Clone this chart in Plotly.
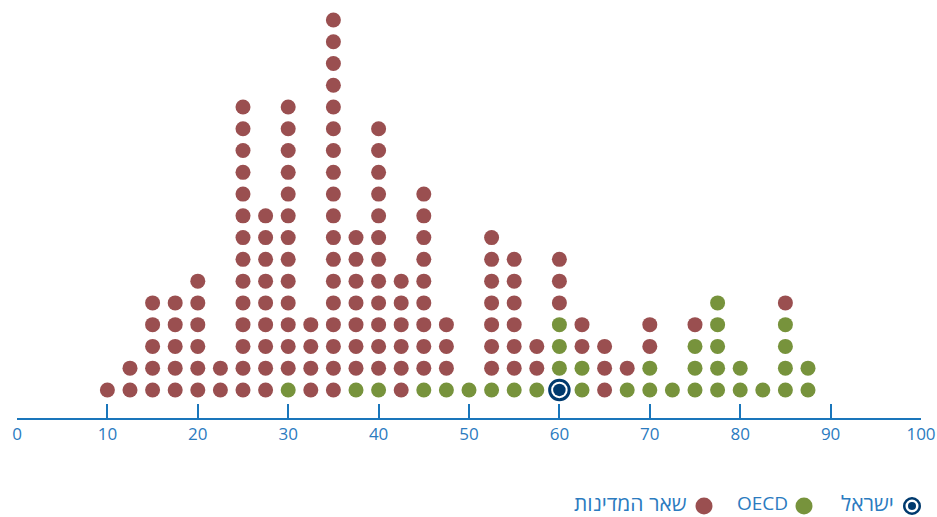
import plotly.graph_objects as go

# ---- data ----
x_values = [10, 12.5, 15, 17.5, 20, 22.5, 25, 27.5, 30, 32.5, 35, 37.5, 40, 42.5, 45, 47.5,
            50, 52.5, 55, 57.5, 60, 62.5, 65, 67.5, 70, 72.5, 75, 77.5, 80, 82.5, 85, 87.5]
israel_counts = [0]*20 + [1] + [0]*11
oecd_counts = [0, 0, 0, 0, 0, 0, 0, 0, 1, 0, 0, 1, 1, 0, 1, 1,
               1, 1, 1, 1, 3, 2, 0, 1, 2, 1, 3, 5, 2, 1, 4, 2]
other_counts = [1, 2, 5, 5, 6, 2, 14, 9, 13, 4, 18, 7, 12, 6, 9, 3,
                0, 7, 6, 2, 3, 2, 3, 1, 2, 0, 1, 0, 0, 0, 1, 0]
tick_vals = [0, 10, 20, 30, 40, 50, 60, 70, 80, 90, 100]
legend_labels = ["ישראל", "OECD", "שאר המדינות"]

RED = "#9a4f50"
GREEN = "#77933c"
NAVY = "#003a6e"
BLUE = "#1a76bb"
TEXT = "#2b7bbf"
FONT = "Open Sans, DejaVu Sans, sans-serif"

# stack positions
ix, iy, gx, gy, rx, ry = [], [], [], [], [], []
for x, ni, ng, nr in zip(x_values, israel_counts, oecd_counts, other_counts):
    k = 0
    for _ in range(ni):
        ix.append(x); iy.append(k); k += 1
    for _ in range(ng):
        gx.append(x); gy.append(k); k += 1
    for _ in range(nr):
        rx.append(x); ry.append(k); k += 1

fig = go.Figure()
fig.add_trace(go.Scatter(x=rx, y=ry, mode="markers", marker=dict(size=15, color=RED, line=dict(width=0)),
                         name=legend_labels[2], showlegend=False, hoverinfo="x"))
fig.add_trace(go.Scatter(x=gx, y=gy, mode="markers", marker=dict(size=15, color=GREEN, line=dict(width=0)),
                         name=legend_labels[1], showlegend=False, hoverinfo="x"))
fig.add_trace(go.Scatter(x=ix, y=iy, mode="markers",
                         marker=dict(size=19.5, color="white", line=dict(width=3, color=NAVY)),
                         name=legend_labels[0], showlegend=False, hoverinfo="x"))
fig.add_trace(go.Scatter(x=ix, y=iy, mode="markers", marker=dict(size=12.5, color=NAVY, line=dict(width=0)),
                         showlegend=False, hoverinfo="skip"))

# ---- manual RTL legend ----
W, H = 937, 517
ml, mr, mt, mb = 17, 16, 10, 99
pw, ph = W - ml - mr, H - mt - mb

def px(x):
    return (x - ml) / pw

def py(y):
    return (H - mb - y) / ph

legend_y = 506
text_y = 503
shapes = []
annotations = []

def dot(cx, d, fill, line_color=None, lw=0):
    shapes.append(dict(type="circle", xref="paper", yref="paper", xsizemode="pixel", ysizemode="pixel",
                       xanchor=px(cx), yanchor=py(legend_y), x0=-d/2, x1=d/2, y0=-d/2, y1=d/2,
                       fillcolor=fill, line=dict(width=lw, color=line_color or fill), layer="above"))

# Israel
dot(912, 15.5, "white", NAVY, 2.5)
dot(912, 8, NAVY)
dot(804, 17, GREEN)
dot(704, 17, RED)
for label, right, size in zip(legend_labels, [896, 790, 689], [21, 19, 21]):
    annotations.append(dict(text=label, xref="paper", yref="paper", x=px(right), y=py(text_y),
                            xanchor="right", yanchor="middle", showarrow=False,
                            font=dict(family=FONT, size=size, color=TEXT)))

fig.update_layout(
    width=W, height=H,
    margin=dict(l=ml, r=mr, t=mt, b=mb, autoexpand=False),
    paper_bgcolor="white", plot_bgcolor="white",
    showlegend=False,
    shapes=shapes, annotations=annotations,
    xaxis=dict(range=[0, 100], tickvals=tick_vals, ticks="inside", ticklen=14, tickwidth=2,
               tickcolor=BLUE, showline=True, linecolor=BLUE, linewidth=2, showgrid=False,
               zeroline=False, automargin=False,
               tickfont=dict(family=FONT, size=17, color=TEXT), fixedrange=True),
    yaxis=dict(range=[-1.29, 17.46], visible=False, showgrid=False, zeroline=False,
               automargin=False, fixedrange=True),
)

fig.write_html("out.html", config={"displayModeBar": False},
               post_script="document.body.style.margin='0';document.body.style.overflow='hidden';")
